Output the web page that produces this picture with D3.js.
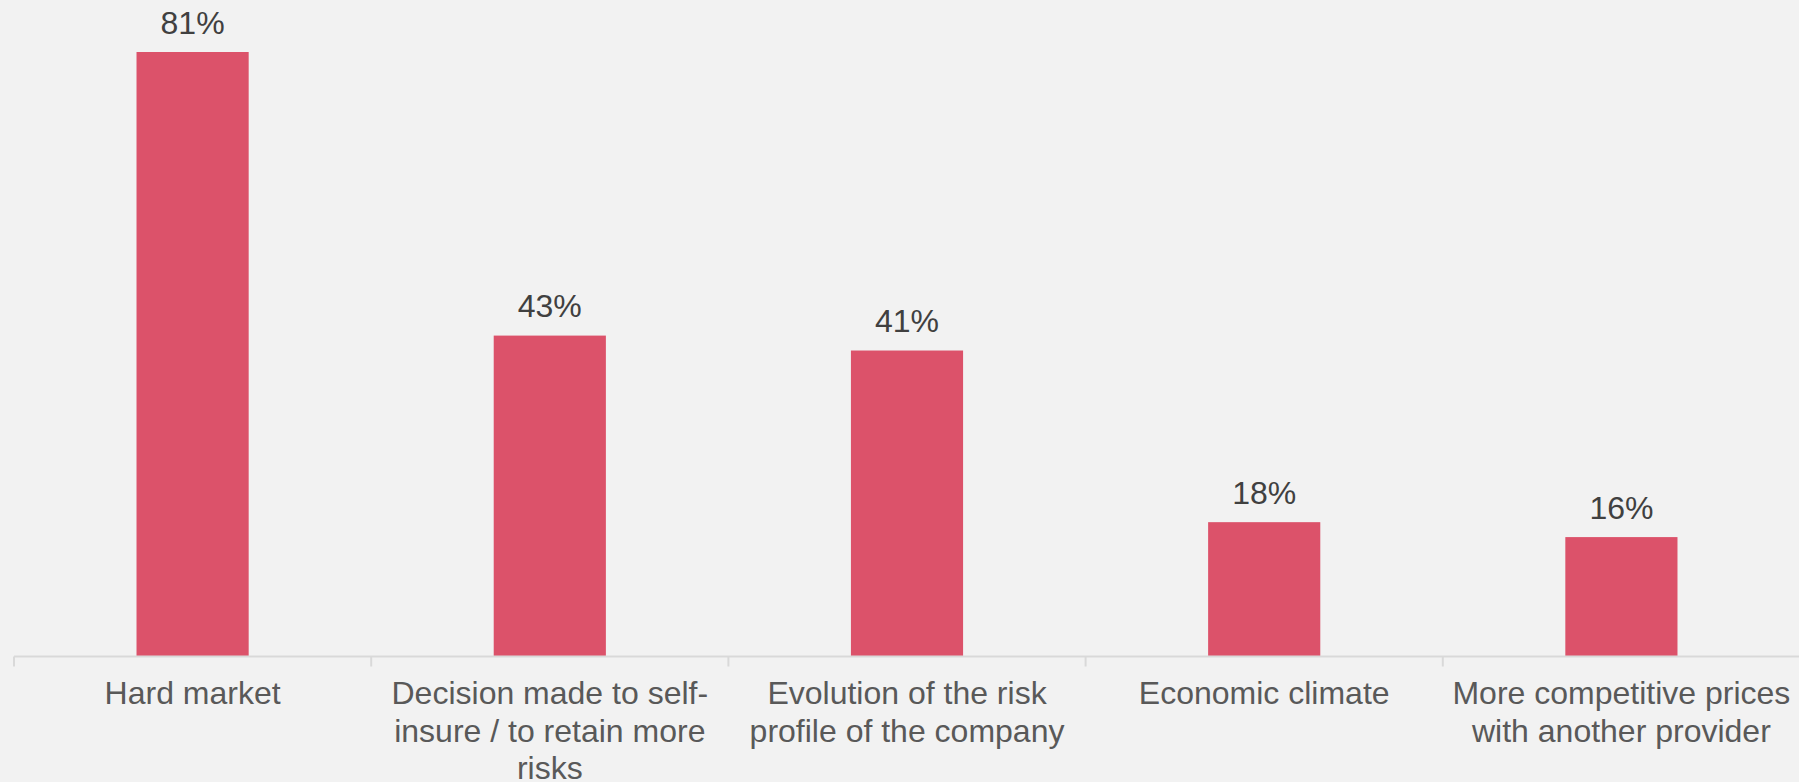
<!DOCTYPE html>
<html>
<head>
<meta charset="utf-8">
<script src="https://cdn.jsdelivr.net/npm/d3@7"></script>
<style>
  html, body { margin: 0; padding: 0; background: #F2F2F2; }
  svg { display: block; }
  text { font-family: Arial, "Liberation Sans", sans-serif; }
</style>
</head>
<body>
<svg id="chart" width="1799" height="782"></svg>
<script>
const categories = [
  "Hard market",
  "Decision made to self-insure / to retain more risks",
  "Evolution of the risk profile of the company",
  "Economic climate",
  "More competitive prices with another provider"
];
const categoryLines = [
  ["Hard market"],
  ["Decision made to self-", "insure / to retain more", "risks"],
  ["Evolution of the risk", "profile of the company"],
  ["Economic climate"],
  ["More competitive prices", "with another provider"]
];
const values = [81, 43, 41, 18, 16];
const valueLabels = ["81%", "43%", "41%", "18%", "16%"];

const W = 1799, H = 782;
const svg = d3.select("#chart");
svg.append("rect").attr("width", W).attr("height", H).attr("fill", "#F2F2F2");

const baseline = 656.5;
const x = d3.scaleBand().domain(categories).range([14, 1800]).padding(0);
const y = d3.scaleLinear().domain([0, 81]).range([baseline, 52]);
const barFrac = 0.314;
const bw = x.bandwidth() * barFrac;

// bars
svg.append("g").selectAll("rect").data(categories).join("rect")
  .attr("x", (d) => x(d) + (x.bandwidth() - bw) / 2)
  .attr("y", (d, i) => y(values[i]))
  .attr("width", bw)
  .attr("height", (d, i) => baseline - y(values[i]))
  .attr("fill", "#DC526A");

// value labels
svg.append("g").selectAll("text").data(categories).join("text")
  .attr("x", (d) => x(d) + x.bandwidth() / 2)
  .attr("y", (d, i) => y(values[i]) - 18.5)
  .attr("text-anchor", "middle")
  .attr("font-size", 32)
  .attr("fill", "#404040")
  .text((d, i) => valueLabels[i]);

// axis
const axis = d3.axisBottom(x).tickSize(10).tickFormat("");
const gAxis = svg.append("g").attr("transform", `translate(0,${baseline})`).call(axis);
gAxis.select(".domain").remove();
gAxis.selectAll(".tick").remove();
gAxis.append("line")
  .attr("x1", 14).attr("x2", W)
  .attr("y1", 0).attr("y2", 0)
  .attr("stroke", "#D9D9D9").attr("stroke-width", 2);
const boundaries = categories.map((d) => x(d));
gAxis.selectAll("line.tk").data(boundaries).join("line")
  .attr("class", "tk")
  .attr("x1", (d) => d).attr("x2", (d) => d)
  .attr("y1", 0).attr("y2", 10)
  .attr("stroke", "#D9D9D9").attr("stroke-width", 2);

// category labels
const lab = svg.append("g").selectAll("text").data(categories).join("text")
  .attr("x", (d) => x(d) + x.bandwidth() / 2)
  .attr("y", 704)
  .attr("text-anchor", "middle")
  .attr("font-size", 32)
  .attr("fill", "#595959");
lab.each(function(d, i) {
  const t = d3.select(this);
  categoryLines[i].forEach((ln, j) => {
    t.append("tspan")
      .attr("x", x(d) + x.bandwidth() / 2)
      .attr("dy", j === 0 ? 0 : 37.5)
      .text(ln);
  });
});
</script>
</body>
</html>
